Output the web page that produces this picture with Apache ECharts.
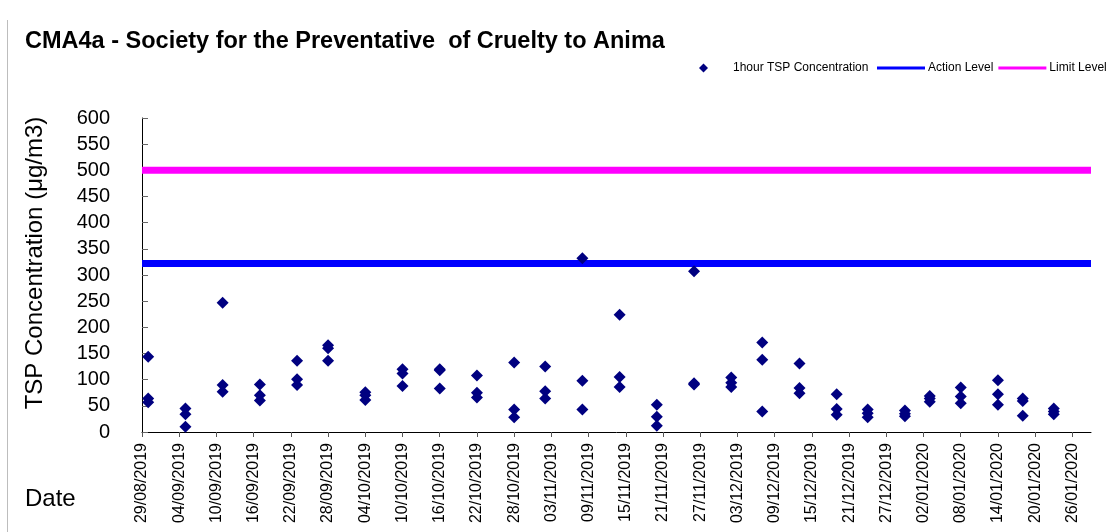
<!DOCTYPE html>
<html>
<head>
<meta charset="utf-8">
<title>CMA4a TSP</title>
<script src="https://cdn.jsdelivr.net/npm/echarts@6/dist/echarts.min.js"></script>
<style>
    html, body { margin: 0; padding: 0; background: #fff; }
    #chart { width: 1112px; height: 532px; }
</style>
</head>
<body>
<div id="chart"></div>
<script>
// sampling days (three 1-hour readings each)
const sampleDates = ['30/08/2019', '05/09/2019', '11/09/2019', '17/09/2019', '23/09/2019', '28/09/2019',
    '04/10/2019', '10/10/2019', '16/10/2019', '22/10/2019', '28/10/2019', '02/11/2019', '08/11/2019',
    '14/11/2019', '20/11/2019', '26/11/2019', '02/12/2019', '07/12/2019', '13/12/2019', '19/12/2019',
    '24/12/2019', '30/12/2019', '03/01/2020', '08/01/2020', '14/01/2020', '18/01/2020', '23/01/2020'];
const reading1 = [144, 45, 247, 91, 136, 166, 76, 120, 120, 108, 133, 125, 332, 224, 52, 307, 104, 171, 131, 72, 43, 41, 69, 85, 99, 64, 45];
const reading2 = [64, 34, 90, 70, 101, 160, 70, 112, 118, 75, 43, 78, 98, 105, 29, 93, 94, 138, 84, 44, 36, 35, 64, 68, 72, 59, 39];
const reading3 = [57, 10, 77, 60, 90, 136, 61, 88, 83, 66, 28, 64, 43, 86, 12, 91, 86, 39, 74, 33, 28, 30, 58, 55, 52, 31, 34];

const actionLevel = 322;
const limitLevel = 500;

const tickLabels = ['29/08/2019', '04/09/2019', '10/09/2019', '16/09/2019', '22/09/2019', '28/09/2019',
    '04/10/2019', '10/10/2019', '16/10/2019', '22/10/2019', '28/10/2019', '03/11/2019', '09/11/2019',
    '15/11/2019', '21/11/2019', '27/11/2019', '03/12/2019', '09/12/2019', '15/12/2019', '21/12/2019',
    '27/12/2019', '02/01/2020', '08/01/2020', '14/01/2020', '20/01/2020', '26/01/2020'];
const axisStart = '29/08/2019';
const axisEnd = '29/01/2020';

const FONT = "'Liberation Sans', Arial, sans-serif";

function toUtc(s) {
    const p = s.split('/');
    return Date.UTC(+p[2], +p[1] - 1, +p[0]);
}
// days since the axis start
function dayOffset(s) {
    return Math.round((toUtc(s) - toUtc(axisStart)) / 86400000);
}
function dayLabel(v) {
    const d = new Date(toUtc(axisStart) + v * 86400000);
    const dd = String(d.getUTCDate()).padStart(2, '0');
    const mm = String(d.getUTCMonth() + 1).padStart(2, '0');
    return `${dd}/${mm}/${d.getUTCFullYear()}`;
}

const points = [];
[reading1, reading2, reading3].forEach(arr => {
    arr.forEach((v, i) => points.push([dayOffset(sampleDates[i]), v]));
});
const xMin = dayOffset(axisStart);
const xMax = dayOffset(axisEnd);
const tickValues = tickLabels.map(dayOffset);

const chart = echarts.init(document.getElementById('chart'));

const option = {
    backgroundColor: '#ffffff',
    animation: false,
    textStyle: { fontFamily: FONT },
    legend: [
        {
            // marker legend
            left: 699,
            top: 62,
            padding: 0,
            itemWidth: 9,
            itemHeight: 9,
            textStyle: { fontFamily: FONT, fontSize: 12, color: '#000', padding: [0, 0, 0, 20] },
            data: ['1hour TSP Concentration']
        },
        {
            // level lines legend
            left: 877,
            top: 62,
            padding: 0,
            itemWidth: 48,
            itemHeight: 3,
            itemGap: 5,
            icon: 'rect',
            textStyle: { fontFamily: FONT, fontSize: 12, color: '#000', padding: [0, 0, 0, -2] },
            data: ['Action Level', 'Limit Level']
        }
    ],
    grid: { left: 142, right: 21, top: 118, bottom: 100 },
    xAxis: {
        type: 'value',
        min: xMin,
        max: xMax,
        interval: 6,
        axisLine: { lineStyle: { color: '#000', width: 1 } },
        axisTick: { show: true, length: 5, customValues: tickValues, lineStyle: { color: '#555' } },
        axisLabel: {
            customValues: tickValues,
            rotate: 90,
            margin: 11,
            fontSize: 16,
            color: '#000',
            fontFamily: FONT,
            formatter: v => dayLabel(v)
        },
        splitLine: { show: false }
    },
    yAxis: {
        type: 'value',
        min: 0,
        max: 600,
        interval: 50,
        name: 'TSP Concentration (μg/m3)',
        nameLocation: 'middle',
        nameGap: 95,
        nameTextStyle: { fontFamily: FONT, fontSize: 24, color: '#000', padding: [0, 0, 0, 24] },
        axisLine: { show: true, lineStyle: { color: '#000', width: 1 } },
        axisTick: { show: true, inside: true, length: 6, lineStyle: { color: '#666' } },
        axisLabel: { margin: 32, fontSize: 20, color: '#000', fontFamily: FONT },
        splitLine: { show: false }
    },
    graphic: [
        {
            type: 'text',
            left: 25,
            top: 30,
            style: {
                text: 'CMA4a - Society for the Preventative  of Cruelty to Animals',
                font: `bold 23.5px ${FONT}`,
                fill: '#000',
                width: 648,
                overflow: 'truncate',
                ellipsis: ''
            }
        },
        {
            type: 'text',
            left: 25,
            top: 487,
            style: { text: 'Date', font: `24px ${FONT}`, fill: '#000' }
        },
        {
            type: 'line',
            shape: { x1: 7.5, y1: 20, x2: 7.5, y2: 532 },
            style: { stroke: '#bdbdbd', lineWidth: 1 }
        }
    ],
    series: [
        {
            name: 'Action Level',
            type: 'line',
            data: [[xMin, actionLevel], [xMax, actionLevel]],
            symbol: 'none',
            lineStyle: { color: '#0000ff', width: 7 },
            itemStyle: { color: '#0000ff' },
            z: 2
        },
        {
            name: 'Limit Level',
            type: 'line',
            data: [[xMin, limitLevel], [xMax, limitLevel]],
            symbol: 'none',
            lineStyle: { color: '#ff00ff', width: 7 },
            itemStyle: { color: '#ff00ff' },
            z: 2
        },
        {
            name: '1hour TSP Concentration',
            type: 'scatter',
            symbol: 'diamond',
            symbolSize: 12,
            itemStyle: { color: '#000080', opacity: 1 },
            data: points,
            z: 3
        }
    ]
};

chart.setOption(option);
</script>
</body>
</html>
